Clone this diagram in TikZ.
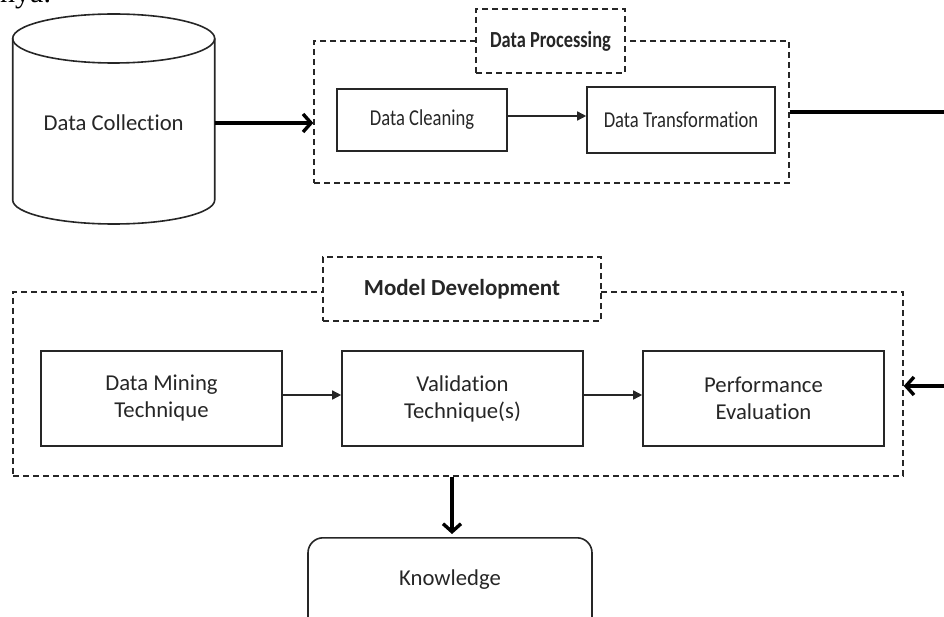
\documentclass[tikz,border=0pt]{standalone}
\usepackage{fontspec}
\usepackage{graphicx}
\setmainfont{Carlito}[Ligatures=NoCommon]
\newfontfamily\fragfont{Liberation Serif}
\usetikzlibrary{arrows.meta,calc}
\definecolor{ink}{RGB}{38,38,38}
\newcommand{\narrowtext}[1]{\scalebox{0.82}[1]{#1}}

\begin{document}
\begin{tikzpicture}[x=1pt,y=1pt,
  basebox/.style={draw=ink, line width=1.6pt, text=ink, inner sep=0pt,
                  font=\fontsize{22.7}{27}\selectfont},
  procbox/.style={basebox, align=center},
  group/.style={draw=ink, line width=1.4pt, dash pattern=on 6pt off 4pt, inner sep=0pt},
  titlebox/.style={group, fill=white, text=ink, font=\bfseries\fontsize{23}{26}\selectfont},
  thinarrow/.style={draw=ink, line width=1.5pt, -{Triangle[length=9pt,width=9pt]}},
  thickarrow/.style={draw=black, line width=3.4pt, -{Straight Barb[length=8pt,width=18pt]}},
  thickline/.style={draw=black, line width=3.4pt}
]
\useasboundingbox (0,0) rectangle (944,-617);

% fragment of text above the figure
\node[anchor=base west, inner sep=0pt, text=black,
      font=\fragfont\fontsize{30}{30}\selectfont] (frag) at (0,-3) {nya.};

% Data collection cylinder
\draw[ink, line width=1.6pt] (113.7,-38.5) ellipse [x radius=101pt, y radius=24.5pt];
\draw[ink, line width=1.6pt] (12.7,-38.5) -- (12.7,-200)
  arc[start angle=180, end angle=360, x radius=101pt, y radius=24pt] -- (214.7,-38.5);
\node[text=ink, inner sep=0pt, minimum width=202, minimum height=150,
      font=\fontsize{22.7}{27}\selectfont] (coll) at (113.7,-123) {Data Collection};

% Data processing group
\node[group, minimum width=475, minimum height=142] (dp) at (551.5,-112) {};
\node[titlebox, minimum width=149, minimum height=64] (dpt) at (550.5,-41)
  {\scalebox{0.8}[1]{Data Processing}};
\node[procbox, minimum width=170, minimum height=62] (clean) at (422,-120) {\narrowtext{Data Cleaning}};
\node[procbox, minimum width=188, minimum height=66] (trans) at (681,-120) {\narrowtext{Data Transformation}};

% Model development group
\node[group, minimum width=890, minimum height=184] (md) at (458,-384) {};
\node[titlebox, minimum width=278, minimum height=64] (mdt) at (462,-289) {Model Development};
\node[procbox, minimum width=241, minimum height=95] (mine) at (161.5,-398.5) {Data Mining\\Technique};
\node[procbox, minimum width=241, minimum height=95] (valid) at (462.5,-398.5) {Validation\\Technique(s)};
\node[procbox, minimum width=241, minimum height=95] (perf) at (763.5,-398.5) {Performance\\Evaluation};

% Knowledge
\node[basebox, rounded corners=15pt, minimum width=284, anchor=north,
      text height=48pt, text depth=70pt] (know) at (450,-537) {Knowledge};

% free ends
\coordinate (outA) at (950,-112);
\coordinate (inB) at (950,-386);

% connectors
\draw[thickarrow] (coll.east) -- (dp.west |- coll.east);
\draw[thinarrow] ([yshift=4pt]clean.east) -- ([yshift=4pt]trans.west);
\draw[thickline] (dp.east) -- (outA);
\draw[thickarrow] (inB) -- (md.east |- inB);
\draw[thinarrow] ([yshift=3.5pt]mine.east) -- ([yshift=3.5pt]valid.west);
\draw[thinarrow] ([yshift=3.5pt]valid.east) -- ([yshift=3.5pt]perf.west);
\draw[thickarrow, shorten >=3pt] ([xshift=2pt]know.north |- md.south) -- ([xshift=2pt]know.north);
\end{tikzpicture}
\end{document}
